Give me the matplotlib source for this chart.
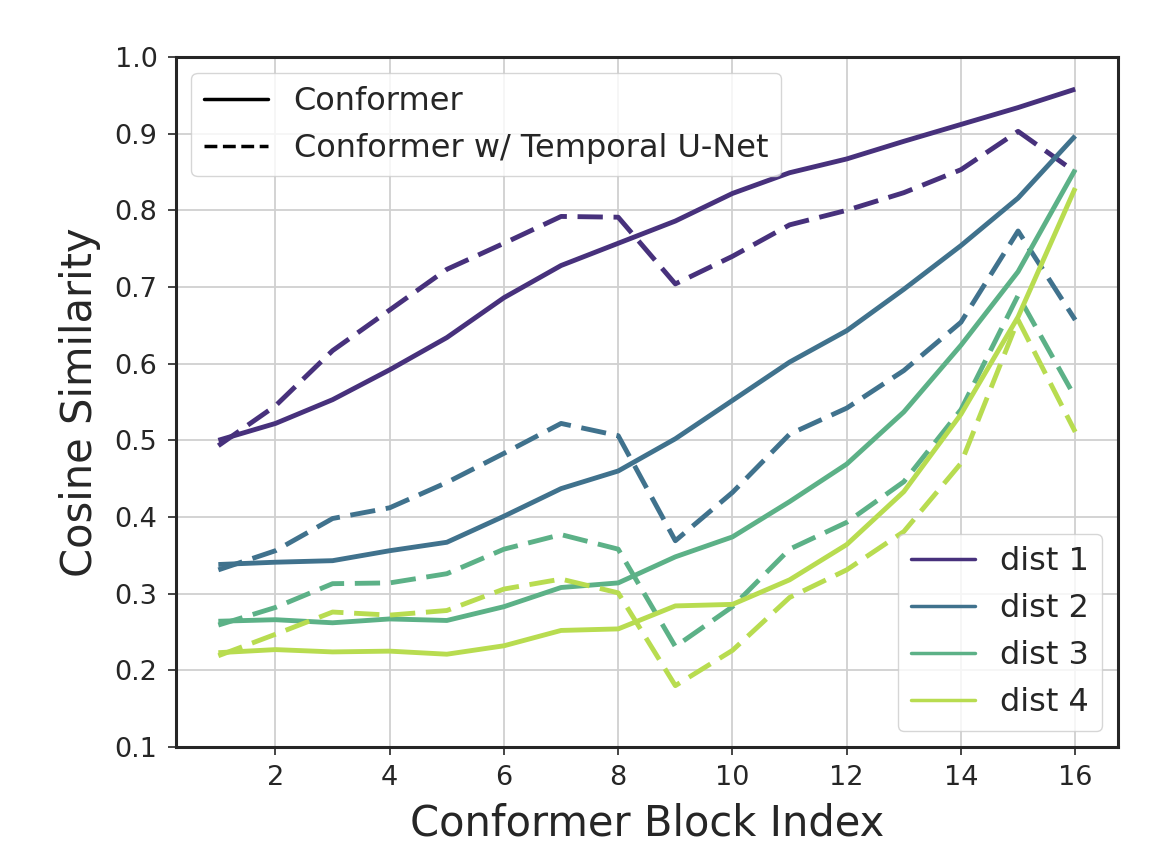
import matplotlib
matplotlib.use("Agg")
import matplotlib.pyplot as plt
import seaborn as sns
from matplotlib.lines import Line2D

blocks = list(range(1, 17))
dist_names = ["dist 1", "dist 2", "dist 3", "dist 4"]

conformer = [
    [0.500, 0.522, 0.553, 0.592, 0.634, 0.686, 0.728, 0.757, 0.786, 0.822, 0.849, 0.867, 0.890, 0.912, 0.934, 0.958],
    [0.338, 0.341, 0.343, 0.356, 0.367, 0.401, 0.437, 0.460, 0.502, 0.552, 0.602, 0.643, 0.697, 0.754, 0.816, 0.897],
    [0.264, 0.266, 0.262, 0.267, 0.265, 0.283, 0.308, 0.314, 0.348, 0.374, 0.420, 0.469, 0.537, 0.624, 0.720, 0.853],
    [0.223, 0.227, 0.224, 0.225, 0.221, 0.232, 0.252, 0.254, 0.284, 0.286, 0.318, 0.364, 0.433, 0.534, 0.661, 0.829],
]
unet = [
    [0.493, 0.545, 0.617, 0.670, 0.723, 0.757, 0.792, 0.791, 0.704, 0.740, 0.781, 0.800, 0.823, 0.853, 0.903, 0.850],
    [0.331, 0.356, 0.398, 0.412, 0.445, 0.483, 0.522, 0.506, 0.369, 0.432, 0.508, 0.542, 0.591, 0.654, 0.773, 0.657],
    [0.259, 0.282, 0.313, 0.314, 0.326, 0.358, 0.377, 0.358, 0.231, 0.283, 0.358, 0.393, 0.446, 0.540, 0.689, 0.556],
    [0.219, 0.247, 0.276, 0.272, 0.278, 0.306, 0.319, 0.301, 0.180, 0.226, 0.295, 0.331, 0.381, 0.470, 0.657, 0.511],
]
colors = ["#47317c", "#40728d", "#5cb187", "#b8dc50"]

sns.set_style("whitegrid")
plt.rcParams["font.family"] = ["DejaVu Sans"]

fig = plt.figure(figsize=(11.7, 8.58), dpi=100)
ax = fig.add_axes([0.150, 0.1294, 0.8056, 0.8042])

for i in range(4):
    ax.plot(blocks, conformer[i], color=colors[i], lw=3.5, solid_capstyle="butt")
    ax.plot(blocks, unet[i], color=colors[i], lw=3.5, ls=(0, (5.2, 2.2)))

ax.set_ylim(0.1, 1.0)
ax.set_xlim(0.25, 16.75)
ax.set_xticks(range(2, 17, 2))
ax.set_yticks([0.1 * k for k in range(1, 11)])
ax.set_xlabel("Conformer Block Index", fontsize=30, color="#262626", labelpad=8)
ax.set_ylabel("Cosine Similarity", fontsize=30, color="#262626", labelpad=10)
ax.tick_params(labelsize=19.5, colors="#262626", length=6, width=1.2, pad=7,
               direction="out", bottom=True, left=True)
ax.grid(True, color="#d0d0d0", lw=1.3)
for s in ax.spines.values():
    s.set_color("#262626")
    s.set_linewidth(2.2)

style_handles = [Line2D([], [], color="black", lw=2.5),
                 Line2D([], [], color="black", lw=2.5, ls=(0, (3.7, 1.6)))]
leg1 = ax.legend(style_handles, ["Conformer", "Conformer w/ Temporal U-Net"],
                 loc="upper left", fontsize=23, frameon=True)
ax.add_artist(leg1)

dist_handles = [Line2D([], [], color=c, lw=2.5) for c in colors]
ax.legend(dist_handles, dist_names, loc="lower right", fontsize=23, frameon=True)

fig.savefig("out.png", dpi=100)
